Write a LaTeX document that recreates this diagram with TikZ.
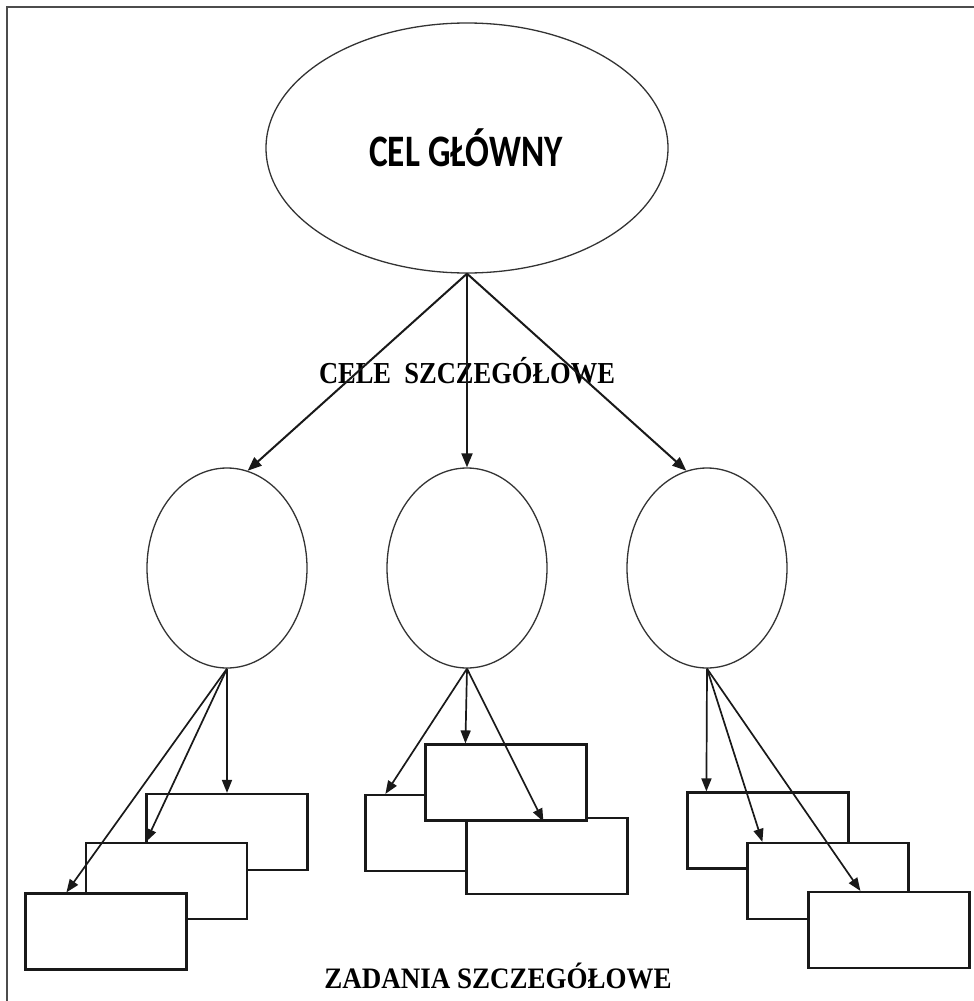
\documentclass[tikz,border=0pt]{standalone}
\usepackage{fontspec}
\setmainfont{Liberation Serif}
\newfontfamily\calib{Carlito}
\usetikzlibrary{shapes.geometric,arrows.meta}
\tikzset{
  oval/.style={ellipse,draw=black!80,line width=1.3pt,inner sep=0pt},
  taskbox/.style={rectangle,draw=black!90,line width=2.2pt,fill=white,minimum width=161pt,minimum height=76pt,inner sep=0pt},
  bigarrow/.style={-{Triangle[length=14pt,width=11pt]},line width=2pt,black!90},
  smallarrow/.style={-{Triangle[length=13pt,width=10pt]},line width=1.7pt,black!90},
  frameline/.style={line width=2.5pt,black!70},
  lbl/.style={inner sep=0pt,font=\bfseries}
}
\begin{document}
\begin{tikzpicture}[x=1pt,y=-1pt]
\useasboundingbox (0,0) rectangle (974,1001);
% frame
\draw[frameline] (7,1001) -- (7,7) -- (974,7);
% main goal
\node[oval,minimum width=402pt,minimum height=250pt] (top) at (467,148) {};
\node[lbl] (toplbl) at (466,148) {\scalebox{0.98}[1.25]{\calib\bfseries\fontsize{36}{40}\selectfont CEL GŁÓWNY}};
% specific goals
\node[oval,minimum width=160pt,minimum height=200pt] (c1) at (227,568) {};
\node[oval,minimum width=160pt,minimum height=200pt] (c2) at (467,568) {};
\node[oval,minimum width=160pt,minimum height=200pt] (c3) at (707,568) {};
\node[lbl] (cele) at (467,371) {\scalebox{1}[1.15]{\bfseries\fontsize{26.5}{28}\selectfont CELE\ \ SZCZEGÓŁOWE}};
\draw[bigarrow] (top.south) -- (c1.78);
\draw[bigarrow] (top.south) -- (c2.north);
\draw[bigarrow] (top.south) -- (c3.102);
% left cluster
\node[taskbox] (A1) at (227,832) {};
\node[taskbox] (B1) at (166.5,881) {};
\node[taskbox] (C1) at (106,931.5) {};
% middle cluster
\node[taskbox] (L2) at (446,833) {};
\node[taskbox] (R2) at (547,856) {};
\node[taskbox] (T2) at (506,782.5) {};
% right cluster
\node[taskbox] (A3) at (768,830.5) {};
\node[taskbox] (B3) at (828,881) {};
\node[taskbox] (C3) at (889,930) {};
% arrow targets
\coordinate (tB1) at ([xshift=61pt]B1.north west);
\coordinate (tC1) at ([xshift=42pt]C1.north west);
\coordinate (tL2) at ([xshift=21pt]L2.north west);
\coordinate (tT2) at ([xshift=41pt]T2.north west);
\coordinate (tR2) at ([xshift=119pt]T2.south west);
\coordinate (tA3) at ([xshift=20pt]A3.north west);
\coordinate (tB3) at ([xshift=16pt]B3.north west);
\coordinate (tC3) at ([xshift=53pt]C3.north west);
\draw[smallarrow] (c1.south) -- (A1.north);
\draw[smallarrow] (c1.south) -- (tB1);
\draw[smallarrow] (c1.south) -- (tC1);
\draw[smallarrow] (c2.south) -- (tL2);
\draw[smallarrow] (c2.south) -- (tT2);
\draw[smallarrow] (c2.south) -- (tR2);
\draw[smallarrow] (c3.south) -- (tA3);
\draw[smallarrow] (c3.south) -- (tB3);
\draw[smallarrow] (c3.south) -- (tC3);
\node[lbl] (zad) at (498,976) {\scalebox{1}[1.1]{\bfseries\fontsize{27}{30}\selectfont ZADANIA SZCZEGÓŁOWE}};
\end{tikzpicture}
\end{document}
